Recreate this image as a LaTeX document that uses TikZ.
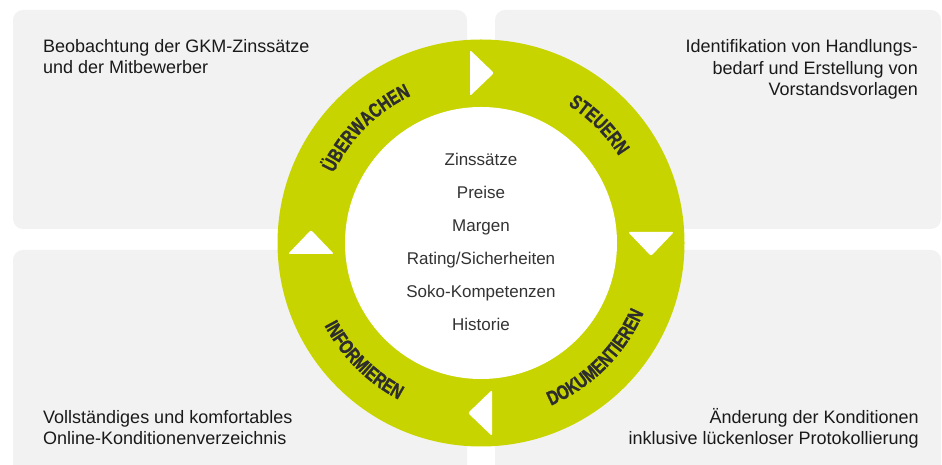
\documentclass[tikz,border=0pt]{standalone}
\usepackage{fontspec}
\setmainfont{Liberation Sans}
\newfontfamily\ringfont{Liberation Sans Bold}[FakeStretch=0.76,FakeBold=1.2]
\usetikzlibrary{decorations.text}
\definecolor{ringgreen}{RGB}{200,212,0}
\definecolor{boxgray}{RGB}{242,242,242}
\definecolor{bodytext}{RGB}{26,26,26}
\definecolor{centertext}{RGB}{51,51,51}
\definecolor{ringtext}{RGB}{45,45,45}
\newcommand\ringfmt{\ringfont\fontsize{20}{20}\selectfont}
\begin{document}
\begin{tikzpicture}[x=1pt,y=1pt,
  panel/.style={fill=boxgray, rounded corners=10pt},
  bodylabel/.style={font=\fontsize{18}{21.5}\selectfont, text=bodytext, inner sep=0pt},
  centrelabel/.style={font=\fontsize{17}{33}\selectfont, text=centertext, inner sep=0pt, align=center},
  arrowhead/.style={fill=white, rounded corners=2pt},
  ringlabel/.style={decorate, decoration={text along path, text align=center, text color=ringtext, text={|\ringfmt|#1}}}
]
\useasboundingbox (0,0) rectangle (942,465);
% panels
\fill[panel] (13,236) rectangle (467,455);
\fill[panel] (495,236) rectangle (941,455);
\fill[panel] (13,-12) rectangle (467,215);
\fill[panel] (495,-12) rectangle (941,215);
% texts
\node[bodylabel, anchor=base west, align=left] (tl) at (43,391) {Beobachtung der GKM-Zinssätze\\und der Mitbewerber};
\node[bodylabel, anchor=base east, align=right] (tr) at (918,369) {Identifikation von Handlungs-\\bedarf und Erstellung von\\Vorstandsvorlagen};
\node[bodylabel, anchor=base west, align=left] (bl) at (43,20) {Vollständiges und komfortables\\Online-Konditionenverzeichnis};
\node[bodylabel, anchor=base east, align=right] (br) at (919,20) {Änderung der Konditionen\\inklusive lückenloser Protokollierung};
% ring
\coordinate (c) at (481,222);
\fill[ringgreen] (c) circle[radius=203.5];
\fill[white] (c) circle[radius=136];
% arrowheads
\foreach \a in {90,0,-90,180}{
  \fill[arrowhead, shift={(c)}, rotate=\a] (147,11) -- (193,11) -- (170,-13) -- cycle;
}
% ring labels
\path[ringlabel=ÜBERWACHEN] (c) ++(180:163) arc[start angle=180, end angle=90, radius=163];
\path[ringlabel=STEUERN] (c) ++(90:163) arc[start angle=90, end angle=0, radius=163];
\path[ringlabel=DOKUMENTIEREN] (c) ++(-90:177) arc[start angle=-90, end angle=0, radius=177];
\path[ringlabel=INFORMIEREN] (c) ++(180:177) arc[start angle=180, end angle=270, radius=177];
% centre
\node[centrelabel, anchor=base] (centre) at (481,134) {Zinssätze\\Preise\\Margen\\Rating/Sicherheiten\\Soko-Kompetenzen\\Historie};
\end{tikzpicture}
\end{document}
